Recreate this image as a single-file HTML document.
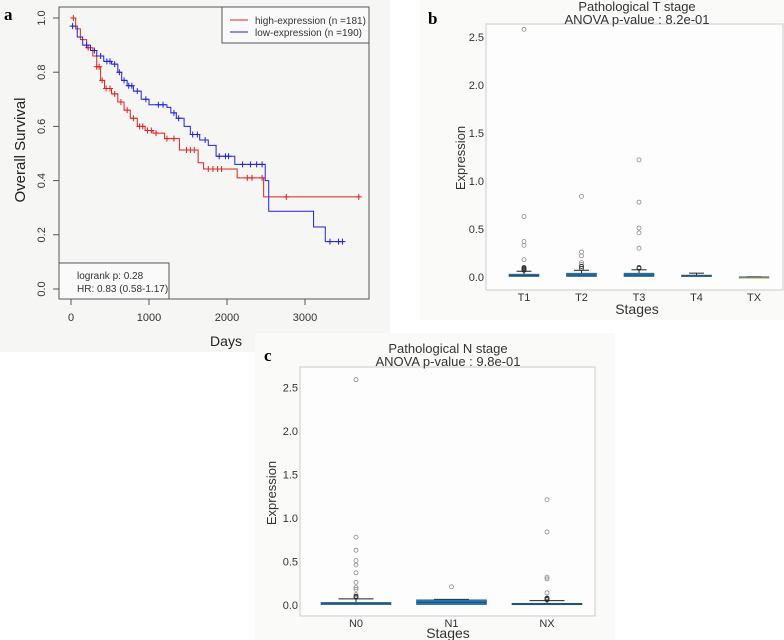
<!DOCTYPE html>
<html><head><meta charset="utf-8">
<style>
html,body{margin:0;padding:0;background:#fff;}
svg{display:block;font-family:"Liberation Sans",sans-serif;}
</style></head>
<body>
<svg id="fig" width="784" height="640" viewBox="0 0 784 640" xmlns="http://www.w3.org/2000/svg">
<rect x="0" y="0" width="390" height="352" fill="#f6f7f4"/>
<rect x="420" y="0" width="364" height="320" fill="#fafbf9"/>
<rect x="255" y="333" width="360" height="307" fill="#fafbf9"/>
<text x="4" y="20" font-family="Liberation Serif,serif" font-weight="bold" font-size="17">a</text>
<text x="428" y="24" font-family="Liberation Serif,serif" font-weight="bold" font-size="17">b</text>
<text x="264" y="361" font-family="Liberation Serif,serif" font-weight="bold" font-size="17">c</text>
<g id="ga"></g><g id="gb"></g><g id="gc"></g>
</svg>
<script>
// ---- Panel a: Kaplan-Meier data ----
const kmXTicks = [0, 1000, 2000, 3000];
const kmYTicks = [0.0, 0.2, 0.4, 0.6, 0.8, 1.0];
const highTimes = [0, 60, 120, 200, 280, 330, 380, 430, 520, 600, 680, 760, 850, 950, 1050, 1200, 1390, 1630, 1700, 2130, 2470, 3700];
const highSurv  = [1.0, 0.96, 0.92, 0.89, 0.86, 0.82, 0.77, 0.74, 0.72, 0.69, 0.66, 0.63, 0.60, 0.585, 0.575, 0.555, 0.513, 0.466, 0.443, 0.41, 0.34, 0.34];
const highCensor = [30, 220, 330, 360, 400, 450, 500, 560, 640, 720, 800, 880, 920, 980, 1030, 1090, 1230, 1320, 1480, 1530, 1580, 1760, 1820, 1880, 1930, 2260, 2320, 2450, 2760, 3690];
const lowTimes = [0, 80, 150, 250, 330, 420, 520, 600, 650, 720, 800, 900, 1000, 1230, 1280, 1350, 1450, 1530, 1650, 1760, 1860, 2100, 2490, 2535, 3110, 3260, 3500];
const lowSurv  = [0.97, 0.93, 0.90, 0.88, 0.86, 0.84, 0.83, 0.80, 0.77, 0.75, 0.73, 0.70, 0.68, 0.67, 0.65, 0.63, 0.60, 0.57, 0.55, 0.53, 0.49, 0.46, 0.40, 0.287, 0.229, 0.175, 0.175];
const lowCensor = [20, 200, 300, 380, 460, 500, 560, 620, 680, 740, 780, 850, 960, 1120, 1180, 1320, 1380, 1560, 1620, 1720, 1900, 1980, 2020, 2200, 2300, 2380, 2450, 3320, 3430, 3480];

// ---- Panel b data ----
const tCats = ["T1", "T2", "T3", "T4", "TX"];
const tQ1 = [0.005, 0.005, 0.005, 0.005, 0.0];
const tMed = [0.015, 0.02, 0.02, 0.012, 0.0];
const tQ3 = [0.03, 0.04, 0.04, 0.02, 0.001];
const tWhisk = [0.06, 0.07, 0.075, 0.04, 0.002];
const tOutliers = [[2.58, 0.63, 0.37, 0.33, 0.18, 0.1, 0.09, 0.08, 0.07], [0.84, 0.26, 0.22, 0.15, 0.13, 0.11, 0.09], [1.22, 0.78, 0.51, 0.46, 0.3, 0.1, 0.09], [], []];
const bYTicks = [0.0, 0.5, 1.0, 1.5, 2.0, 2.5];

// ---- Panel c data ----
const nCats = ["N0", "N1", "NX"];
const nQ1 = [0.005, 0.005, 0.005];
const nMed = [0.015, 0.03, 0.012];
const nQ3 = [0.03, 0.06, 0.02];
const nWhisk = [0.07, 0.065, 0.05];
const nOutliers = [[2.59, 0.78, 0.63, 0.51, 0.46, 0.37, 0.26, 0.2, 0.18, 0.12, 0.1, 0.09], [0.21], [1.21, 0.84, 0.32, 0.3, 0.14, 0.08, 0.07, 0.06]];
const cYTicks = [0.0, 0.5, 1.0, 1.5, 2.0, 2.5];

const NS = "http://www.w3.org/2000/svg";
function mk(parent, tag, attrs, text) {
  const el = document.createElementNS(NS, tag);
  for (const k in attrs) el.setAttribute(k, attrs[k]);
  if (text !== undefined) el.textContent = text;
  parent.appendChild(el);
  return el;
}

// ===== Panel a =====
(function () {
  const g = document.getElementById("ga");
  const xs = d => 71 + d * 0.078;
  const ys = v => 289 - v * 271;
  const box = mk(g, "rect", {x: 59, y: 7, width: 310, height: 292, fill: "none", stroke: "#555", "stroke-width": 1});
  
  
  kmXTicks.forEach(t => {
    const l = mk(g, "line", {x1: xs(t), x2: xs(t), y1: 299, y2: 305, stroke: "#555"});
    
    
    const tx = mk(g, "text", {x: xs(t), y: 321, "text-anchor": "middle", "font-size": 11, fill: "#333"}, String(t));
    
    
  });
  kmYTicks.forEach(t => {
    const l = mk(g, "line", {x1: 53, x2: 59, y1: ys(t), y2: ys(t), stroke: "#555"});
    
    
    const tx = mk(g, "text", {x: 45, y: ys(t), "text-anchor": "middle", "font-size": 11, fill: "#333", transform: `rotate(-90 45 ${ys(t)})`}, t.toFixed(1));
    
    
  });
  const xl = mk(g, "text", {x: 226, y: 346, "text-anchor": "middle", "font-size": 14, fill: "#222"}, "Days");
  
  
  const yl = mk(g, "text", {x: 25, y: 150, "text-anchor": "middle", "font-size": 15, fill: "#222", transform: "rotate(-90 25 150)"}, "Overall Survival");
  
  

  function stepPath(ts, ss) {
    let d = `M${xs(ts[0])},${ys(ss[0])}`;
    for (let i = 1; i < ts.length; i++) d += ` H${xs(ts[i])} V${ys(ss[i])}`;
    return d;
  }
  function survAt(ts, ss, t) {
    let v = ss[0];
    for (let i = 0; i < ts.length; i++) if (ts[i] <= t) v = ss[i];
    return v;
  }
  [[highTimes, highSurv, highCensor, "#e02020", "high-expression-curve"], [lowTimes, lowSurv, lowCensor, "#2020e0", "low-expression-curve"]].forEach(([ts, ss, cs, col, nm]) => {
    const p = mk(g, "path", {d: stepPath(ts, ss), fill: "none", stroke: col, "stroke-width": 1});
    
    
    cs.forEach(c => {
      const x = xs(c), y = ys(survAt(ts, ss, c));
      const m = mk(g, "path", {d: `M${x - 3},${y} H${x + 3} M${x},${y - 3} V${y + 3}`, stroke: col, "stroke-width": 1});
      
      
    });
  });
  const lg = mk(g, "g", {});
  
  
  mk(lg, "rect", {x: 222, y: 7, width: 147, height: 36, fill: "#fafafa", stroke: "#555"});
  mk(lg, "line", {x1: 230, x2: 248, y1: 20, y2: 20, stroke: "#e02020"});
  mk(lg, "line", {x1: 230, x2: 248, y1: 32, y2: 32, stroke: "#2020e0"});
  const l1 = mk(lg, "text", {x: 255, y: 24, "font-size": 10, fill: "#333"}, "high-expression (n =181)");
  
  
  const l2 = mk(lg, "text", {x: 255, y: 36, "font-size": 10, fill: "#333"}, "low-expression (n =190)");
  
  
  const sb = mk(g, "g", {});
  
  
  mk(sb, "rect", {x: 59, y: 263, width: 110, height: 36, fill: "#fafafa", stroke: "#555"});
  mk(sb, "text", {x: 77, y: 279, "font-size": 10, fill: "#333"}, "logrank p: 0.28");
  mk(sb, "text", {x: 77, y: 292, "font-size": 10, fill: "#333"}, "HR: 0.83 (0.58-1.17)");
})();

// ===== Box plot panels =====
function boxPanel(gid, o) {
  const g = document.getElementById(gid);
  const ys = v => o.y0 - v * o.k;
  const fr = mk(g, "rect", {x: o.L, y: o.T, width: o.R - o.L, height: o.B - o.T, fill: "#fcfdfc", stroke: "#ccc"});
  
  
  const t1 = mk(g, "text", {x: o.tx, y: o.t1y, "text-anchor": "middle", "font-size": 13, fill: "#333"}, o.title);
  
  
  const t2 = mk(g, "text", {x: o.tx, y: o.t1y + 13, "text-anchor": "middle", "font-size": 13, fill: "#333"}, o.sub);
  
  
  o.yt.forEach(t => {
    const tx = mk(g, "text", {x: o.L - 2, y: ys(t) + 4, "text-anchor": "end", "font-size": 11, fill: "#333"}, t.toFixed(1));
    
    
  });
  const yl = mk(g, "text", {x: o.ylx, y: o.yly, "text-anchor": "middle", "font-size": 13, fill: "#333", transform: `rotate(-90 ${o.ylx} ${o.yly})`}, "Expression");
  
  
  const xl = mk(g, "text", {x: o.tx, y: o.sy, "text-anchor": "middle", "font-size": 14, fill: "#333"}, "Stages");
  
  
  const bw = o.bw;
  o.cats.forEach((c, i) => {
    const cx = o.c0 + o.cs * i;
    const tx = mk(g, "text", {x: cx, y: o.B + 11, "text-anchor": "middle", "font-size": 11, fill: "#333"}, c);
    
    
    const bg = mk(g, "g", {});
    
    
    const isFlat = o.q3[i] - o.q1[i] < 0.005;
    mk(bg, "line", {x1: cx, x2: cx, y1: ys(o.q3[i]), y2: ys(o.wh[i]), stroke: "#222"});
    mk(bg, "line", {x1: cx - bw / 4, x2: cx + bw / 4, y1: ys(o.wh[i]), y2: ys(o.wh[i]), stroke: "#222"});
    mk(bg, "rect", {x: cx - bw / 2, y: ys(o.q3[i]), width: bw, height: Math.max(1.5, ys(o.q1[i]) - ys(o.q3[i])), fill: isFlat ? "#c9b96a" : "#2678b0", stroke: isFlat ? "#c9b96a" : "#2a5a80", "stroke-width": 0.6});
    mk(bg, "line", {x1: cx - bw / 2, x2: cx + bw / 2, y1: ys(o.med[i]), y2: ys(o.med[i]), stroke: "#1b4f72"});
    o.out[i].forEach(v => {
      const ci = mk(g, "circle", {cx: cx, cy: ys(v), r: 2, fill: "none", stroke: v < 0.12 ? "#222" : "#888", "stroke-width": 0.8});
      
      
    });
  });
}
boxPanel("gb", {L: 486, R: 783, T: 24, B: 290, y0: 277, k: 96, c0: 524, cs: 57.5, bw: 30, cats: tCats, q1: tQ1, med: tMed, q3: tQ3, wh: tWhisk, out: tOutliers, yt: bYTicks,
  title: "Pathological T stage", sub: "ANOVA p-value : 8.2e-01", tx: 637, t1y: 11, ylx: 465, yly: 158, sy: 314});
boxPanel("gc", {L: 300, R: 595, T: 367, B: 616, y0: 605, k: 87, c0: 356, cs: 95.5, bw: 70, cats: nCats, q1: nQ1, med: nMed, q3: nQ3, wh: nWhisk, out: nOutliers, yt: cYTicks,
  title: "Pathological N stage", sub: "ANOVA p-value : 9.8e-01", tx: 448, t1y: 353, ylx: 276, yly: 493, sy: 638});
</script>
</body></html>
